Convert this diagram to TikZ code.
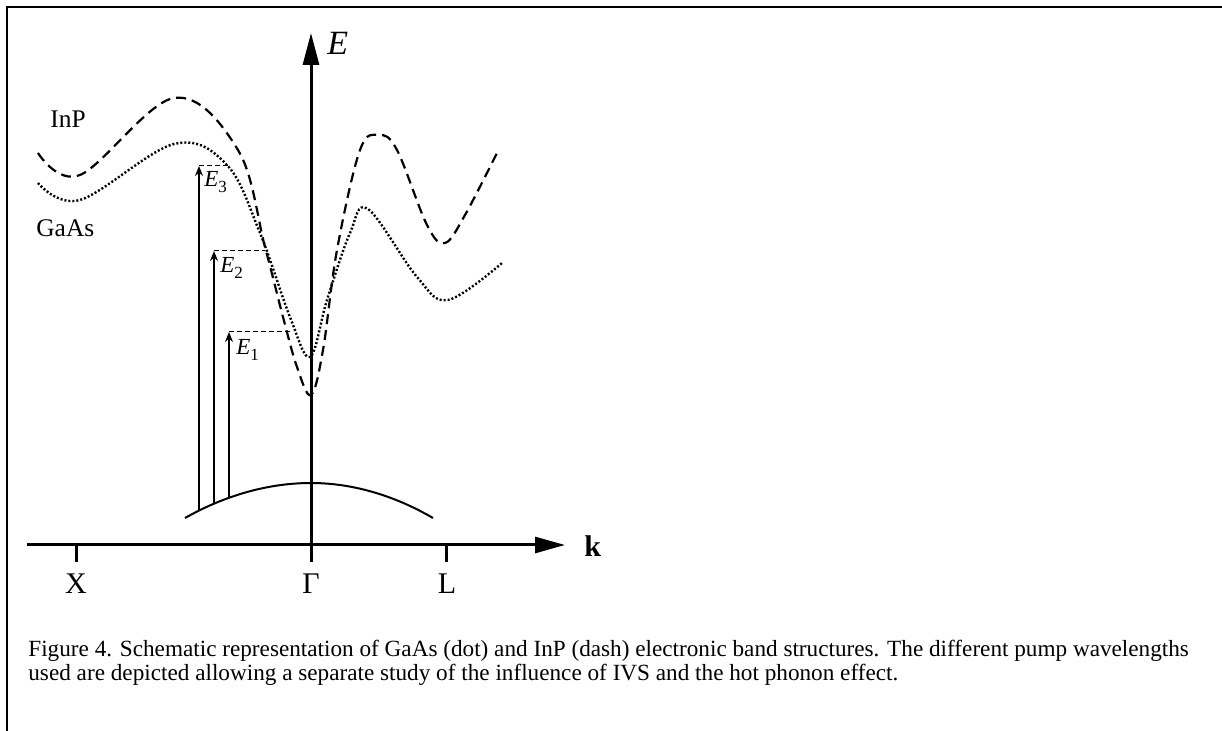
\documentclass[tikz,border=0pt]{standalone}
\usepackage{fontspec}
\setmainfont{Liberation Serif}
\usetikzlibrary{arrows.meta}

\tikzset{
  axis/.style={line width=1.5pt},
  inp/.style={line width=1.1pt, dash pattern=on 5pt off 3pt},
  gaas/.style={line width=1.2pt, dash pattern=on 1pt off 1pt},
  pump/.style={line width=0.9pt, -{Stealth[length=5pt,width=4pt]}},
  level/.style={line width=0.5pt, dash pattern=on 2.5pt off 1.5pt},
  lbl/.style={inner sep=0pt, anchor=base west},
  sym/.style={inner sep=0pt, anchor=base, font=\fontsize{15}{15}\selectfont},
  elev/.style={lbl, font=\fontsize{11.5}{11.5}\itshape},
}
\newcommand{\lowsub}[1]{\raisebox{-3pt}{\upshape\fontsize{8.5}{8.5}\selectfont #1}}

\begin{document}
\begin{tikzpicture}[x=0.5pt, y=-0.5pt]
  \useasboundingbox (0,0) rectangle (1222,731);
  \draw[line width=1pt] (7,731) -- (7,7) -- (1222,7);

  % axes
  \coordinate (kstart) at (27,545);
  \coordinate (kend) at (565,545);
  \coordinate (ebot) at (311,562);
  \coordinate (etop) at (311,33);
  \draw[axis, -{Triangle[length=15pt,width=8pt]}] (kstart) -- (kend);
  \draw[axis, -{Triangle[length=16pt,width=8pt]}] (ebot) -- (etop);
  \coordinate (xtick) at (76,545);
  \coordinate (ltick) at (446,545);
  \draw[axis] (xtick) -- ++(0,17);
  \draw[axis] (ltick) -- ++(0,17);
  \node[lbl, font=\fontsize{17}{17}\itshape] (elab) at (327,55) {E};
  \node[lbl, font=\fontsize{15}{15}\bfseries] (klab) at (584,557) {k};
  \node[sym] (xlab) at (76,594) {X};
  \node[sym] (glab) at (311,594) {Γ};
  \node[sym] (llab) at (447,594) {L};

  % conduction bands
  \draw[inp] plot[smooth, tension=0.6] coordinates {(38,153) (80,175)
    (174,98) (238,150) (265,247) (283,317) (297,367) (311,395) (323,350)
    (337,250) (360,150) (379,135) (397,150) (427,225) (445,243) (465,215)
    (497,153)};
  \draw[gaas] plot[smooth, tension=0.6] coordinates {(38,183) (80,200)
    (174,144) (227,165) (260,233) (290,317) (310,357) (327,300) (350,233)
    (368,209) (417,277) (448,300) (502,263)};
  \node[lbl, font=\fontsize{12.7}{12.7}\selectfont] (inplab) at (50,128) {InP};
  \node[lbl, font=\fontsize{12.7}{12.7}\selectfont] (gaaslab) at (36,237) {GaAs};

  % valence band
  \coordinate (vl) at (185,518);
  \coordinate (vtop) at (311,483);
  \coordinate (vr) at (433,518);
  \draw[line width=1pt] (vl) parabola bend (vtop) (vr);

  % pump transitions
  \coordinate (v3) at (199,510.7);
  \coordinate (c3) at (199,166);
  \coordinate (m3) at (230,166);
  \coordinate (v2) at (214,503.7);
  \coordinate (c2) at (214,251);
  \coordinate (m2) at (265,251);
  \coordinate (v1) at (229,497.8);
  \coordinate (c1) at (229,332);
  \coordinate (m1) at (291,332);
  \draw[pump] (v3) -- (c3);
  \draw[pump] (v2) -- (c2);
  \draw[pump] (v1) -- (c1);
  \draw[level] (c3) -- (m3);
  \draw[level] (c2) -- (m2);
  \draw[level] (c1) -- (m1);
  \node[elev] (e3lab) at (204,187) {E\lowsub{3}};
  \node[elev] (e2lab) at (220,273) {E\lowsub{2}};
  \node[elev] (e1lab) at (236,355) {E\lowsub{1}};

  % caption
  \node[lbl, font=\fontsize{11.6}{11.6}\selectfont] (cap1) at (28,657) {Figure 4. Schematic representation of GaAs (dot) and InP (dash) electronic band structures. The different pump wavelengths};
  \node[lbl, font=\fontsize{11.6}{11.6}\selectfont] (cap2) at (28,681) {used are depicted allowing a separate study of the influence of IVS and the hot phonon effect.};
\end{tikzpicture}
\end{document}
